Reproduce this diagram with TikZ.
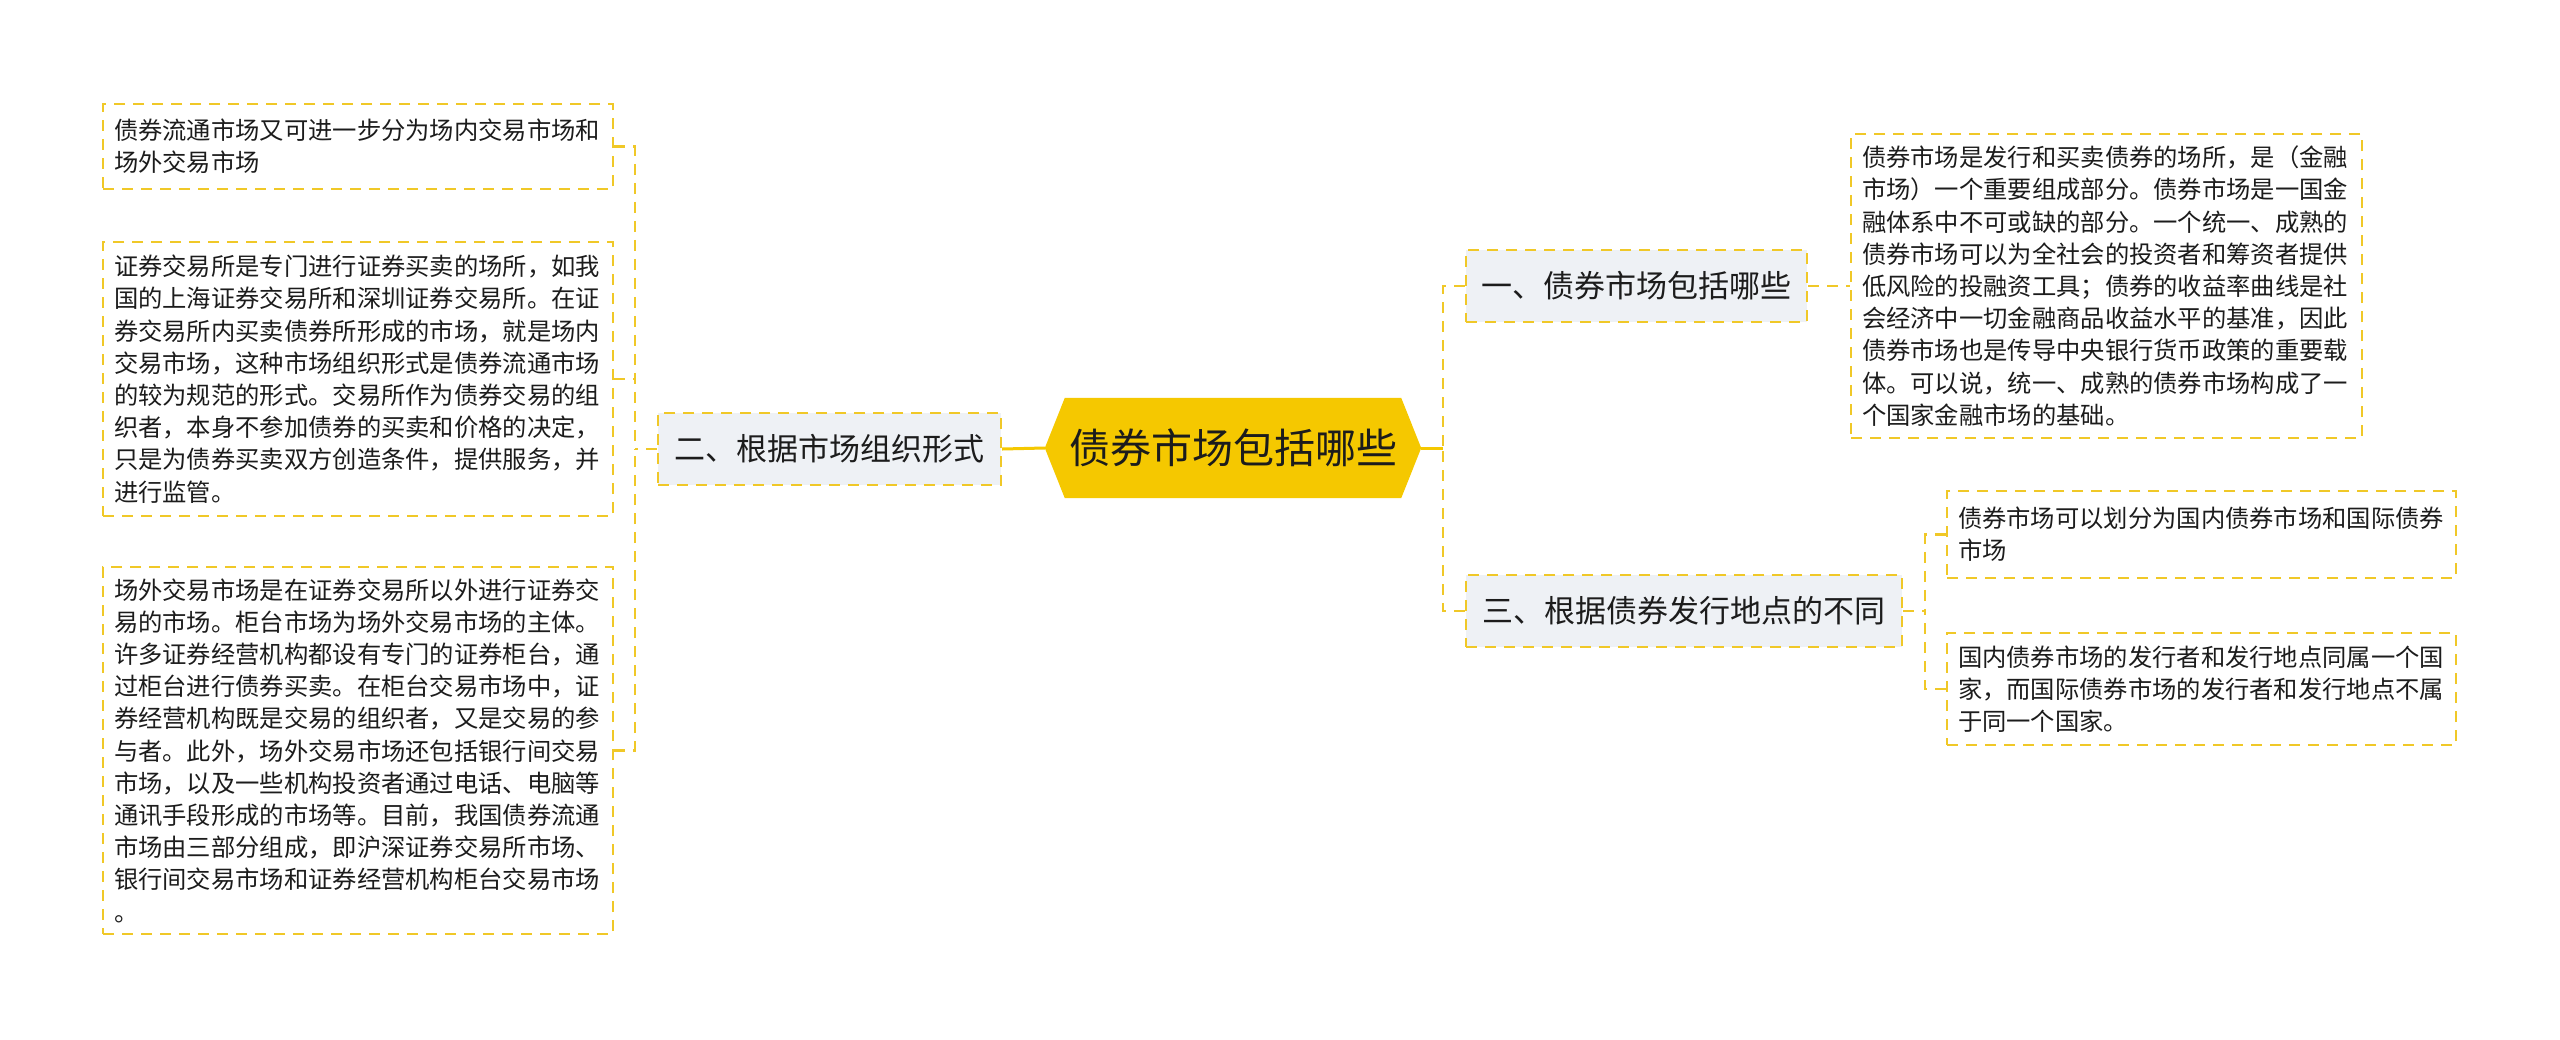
\documentclass[tikz,border=0pt]{standalone}
\usepackage{fontspec}
\setmainfont{Noto Sans CJK SC}
\usetikzlibrary{calc}
\definecolor{gold}{RGB}{245,200,0}
\definecolor{dashc}{RGB}{240,200,40}
\definecolor{lvlfill}{RGB}{238,241,245}
\definecolor{ink}{RGB}{28,28,28}
\tikzset{
  conn/.style={draw=dashc, line width=2.4pt, dash pattern=on 11pt off 8pt},
  solidconn/.style={draw=gold, line width=3pt},
  leafbox/.style={draw=dashc, line width=2.4pt, dash pattern=on 11pt off 8pt, fill=white,
    text=ink, align=left, inner xsep=11pt, inner ysep=0pt,
    font=\fontsize{24.3}{32.2}\selectfont},
  lvlbox/.style={draw=dashc, line width=2.4pt, dash pattern=on 11pt off 8pt, fill=lvlfill,
    text=ink, align=center, inner sep=0pt, minimum height=72pt,
    font=\fontsize{31}{36}\selectfont},
  centerbox/.style={inner sep=0pt, minimum width=376pt, minimum height=100pt,
    text=ink, font=\fontsize{41}{46}\selectfont}
}
\begin{document}
\begin{tikzpicture}[x=1pt,y=-1pt]
\useasboundingbox (0,0) rectangle (2560,1039);
\fill[white] (0,0) rectangle (2560,1039);

% central node
\node[centerbox] (c) at (1233,448) {};
\fill[gold] (c.west) -- ([xshift=20pt]c.north west) -- ([xshift=-20pt]c.north east)
  -- (c.east) -- ([xshift=-20pt]c.south east) -- ([xshift=20pt]c.south west) -- cycle;
\node[centerbox] (ct) at (c.center) {债券市场包括哪些};

% level one boxes
\node[lvlbox, minimum width=343pt] (b2) at (829.5,449) {二、根据市场组织形式};
\node[lvlbox, minimum width=341pt] (b1) at (1636.5,286) {一、债券市场包括哪些};
\node[lvlbox, minimum width=436pt] (b3) at (1684,611) {三、根据债券发行地点的不同};

% left leaves
\node[leafbox, text width=488pt, minimum height=85pt] (l1) at (358,146.5)
 {债券流通市场又可进一步分为场内交易市场和\\场外交易市场};
\node[leafbox, text width=488pt, minimum height=274pt] (l2) at (358,379)
 {证券交易所是专门进行证券买卖的场所，如我\\国的上海证券交易所和深圳证券交易所。在证\\券交易所内买卖债券所形成的市场，就是场内\\交易市场，这种市场组织形式是债券流通市场\\的较为规范的形式。交易所作为债券交易的组\\织者，本身不参加债券的买卖和价格的决定，\\只是为债券买卖双方创造条件，提供服务，并\\进行监管。};
\node[leafbox, text width=488pt, minimum height=367pt] (l3) at (358,750.5)
 {场外交易市场是在证券交易所以外进行证券交\\易的市场。柜台市场为场外交易市场的主体。\\许多证券经营机构都设有专门的证券柜台，通\\过柜台进行债券买卖。在柜台交易市场中，证\\券经营机构既是交易的组织者，又是交易的参\\与者。此外，场外交易市场还包括银行间交易\\市场，以及一些机构投资者通过电话、电脑等\\通讯手段形成的市场等。目前，我国债券流通\\市场由三部分组成，即沪深证券交易所市场、\\银行间交易市场和证券经营机构柜台交易市场\\。};

% right leaves
\node[leafbox, text width=489pt, minimum height=304pt] (r1) at (2106.5,286)
 {债券市场是发行和买卖债券的场所，是（金融\\市场）一个重要组成部分。债券市场是一国金\\融体系中不可或缺的部分。一个统一、成熟的\\债券市场可以为全社会的投资者和筹资者提供\\低风险的投融资工具；债券的收益率曲线是社\\会经济中一切金融商品收益水平的基准，因此\\债券市场也是传导中央银行货币政策的重要载\\体。可以说，统一、成熟的债券市场构成了一\\个国家金融市场的基础。};
\node[leafbox, text width=487pt, minimum height=87pt] (ra) at (2201.5,534.5)
 {债券市场可以划分为国内债券市场和国际债券\\市场};
\node[leafbox, text width=487pt, minimum height=112pt] (rb) at (2201.5,689)
 {国内债券市场的发行者和发行地点同属一个国\\家，而国际债券市场的发行者和发行地点不属\\于同一个国家。};

% connectors left
\draw[solidconn] (b2.east) -- (c.west);
\draw[conn] (b2.west) -- ++(-22pt,0) coordinate (lv);
\draw[conn] (l1.east) -| (lv);
\draw[conn] (l3.east) -| (lv);
\draw[conn] (l2.east) -- (l2.east -| lv);

% connectors right
\draw[solidconn] (c.east) -- ++(22pt,0) coordinate (rv);
\draw[conn] (b1.west) -| (rv);
\draw[conn] (b3.west) -| (rv);
\draw[conn] (b1.east) -- (r1.west);
\draw[conn] (b3.east) -- ++(22pt,0) coordinate (rv2);
\draw[conn] (ra.west) -| (rv2);
\draw[conn] (rb.west) -| (rv2);
\end{tikzpicture}
\end{document}
